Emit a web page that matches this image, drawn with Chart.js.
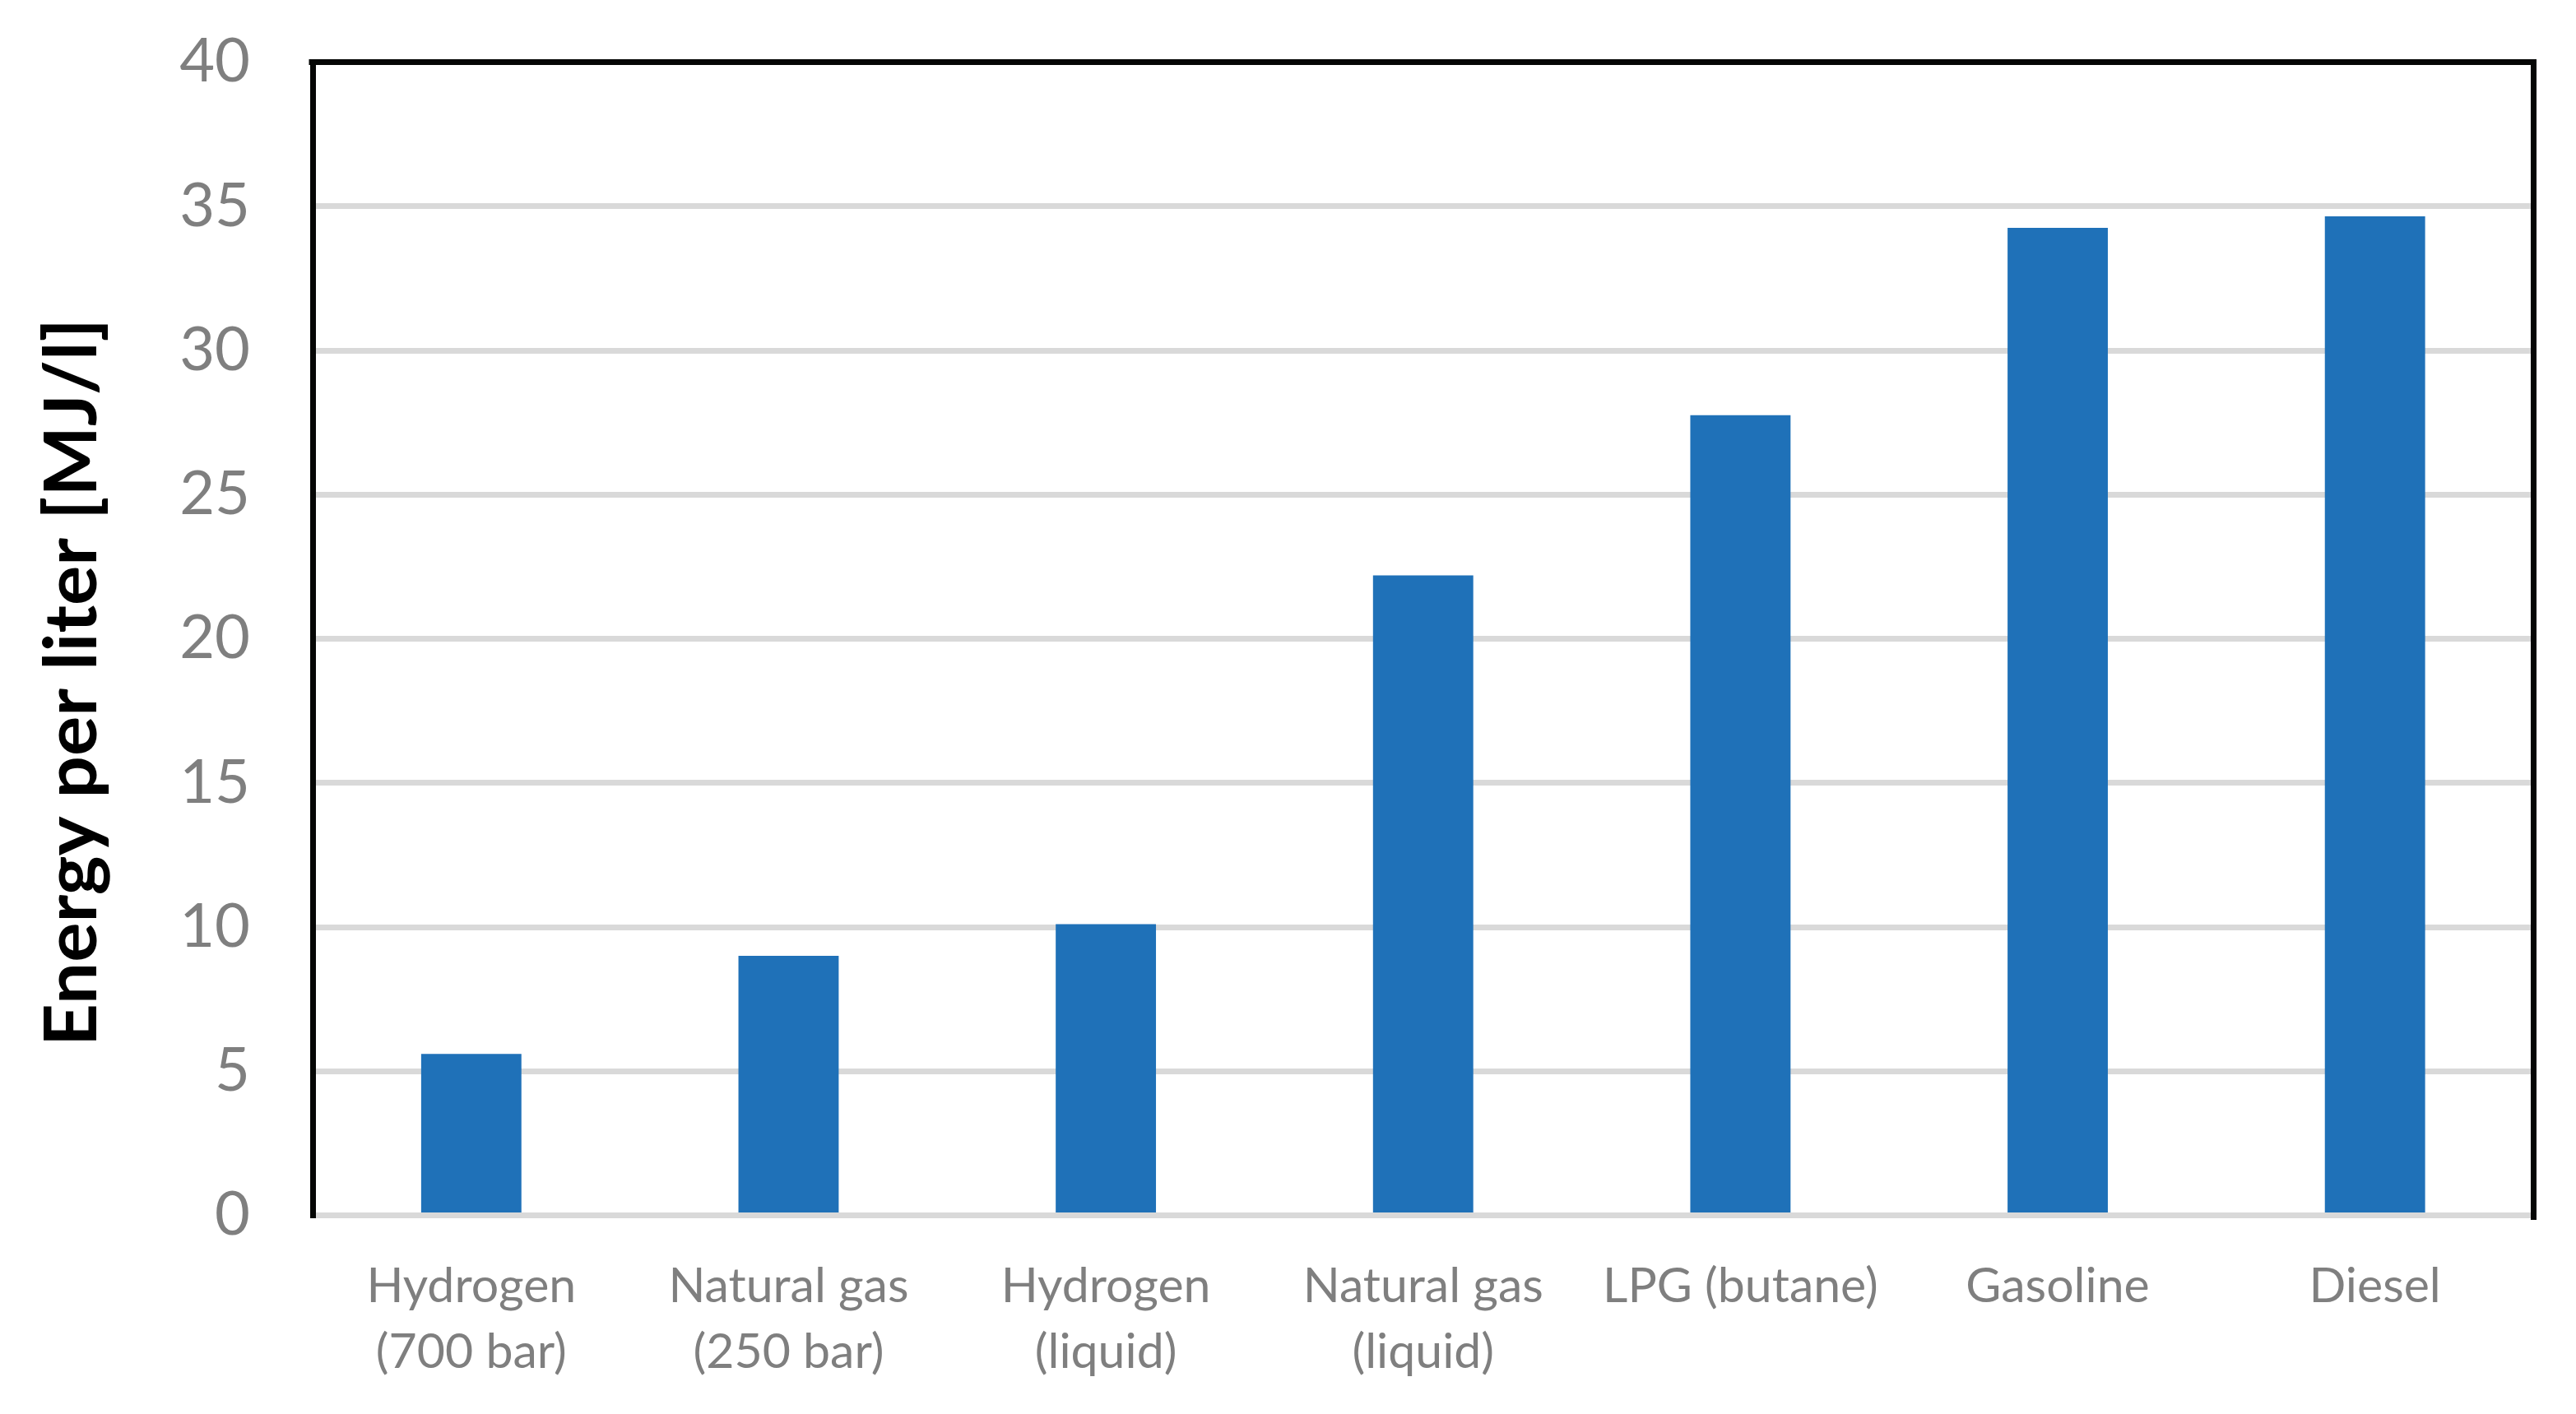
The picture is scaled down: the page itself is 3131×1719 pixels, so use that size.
<!DOCTYPE html>
<html>
<head>
<meta charset="utf-8">
<script src="https://cdn.jsdelivr.net/npm/chart.js@4/dist/chart.umd.min.js"></script>
<style>
html,body{margin:0;padding:0;background:#ffffff;}
#wrap{width:3131px;height:1719px;position:relative;}
canvas{display:block;}
</style>
</head>
<body>
<div id="wrap"><canvas id="c" width="3131" height="1719"></canvas></div>
<script>
// ---- data ----
const categories = [
  ["Hydrogen", "(700 bar)"],
  ["Natural gas", "(250 bar)"],
  ["Hydrogen", "(liquid)"],
  ["Natural gas", "(liquid)"],
  "LPG (butane)",
  "Gasoline",
  "Diesel"
];
const energyPerLiter = [5.6, 9.0, 10.1, 22.2, 27.75, 34.25, 34.65];
const yMin = 0;
const yMax = 40;
const yStep = 5;
const yAxisTitle = "Energy per liter [MJ/l]";

// ---- plugins ----
const framePlugin = {
  id: 'frame',
  afterDatasetsDraw(chart) {
    const {ctx, chartArea: a} = chart;
    ctx.save();
    ctx.strokeStyle = '#050605';
    ctx.lineWidth = 7;
    ctx.lineCap = 'square';
    ctx.beginPath();
    ctx.moveTo(a.left - 1, a.top);
    ctx.lineTo(a.right, a.top);
    ctx.lineTo(a.right, a.bottom + 2);
    ctx.stroke();
    ctx.restore();
  }
};

const yTitlePlugin = {
  id: 'yTitle',
  afterDraw(chart) {
    const ctx = chart.ctx;
    ctx.save();
    ctx.font = 'bold 88px Lato';
    ctx.fillStyle = '#000000';
    ctx.textAlign = 'center';
    ctx.textBaseline = 'alphabetic';
    const w = ctx.measureText(yAxisTitle).width;
    const target = 885;
    ctx.translate(117, 829.5);
    ctx.rotate(-Math.PI / 2);
    ctx.scale(target / w, 1);
    ctx.fillText(yAxisTitle, 0, 0);
    ctx.restore();
  }
};

function draw() {
  new Chart(document.getElementById('c'), {
    type: 'bar',
    data: {
      labels: categories,
      datasets: [{
        data: energyPerLiter,
        backgroundColor: '#1F71B8',
        borderWidth: 0,
        barPercentage: 0.316,
        categoryPercentage: 1.0
      }]
    },
    options: {
      responsive: false,
      animation: false,
      devicePixelRatio: 1,
      layout: { padding: { top: 75.5, right: 51.5, left: 0, bottom: 0 } },
      plugins: { legend: { display: false }, tooltip: { enabled: false }, title: { display: false } },
      scales: {
        x: {
          grid: { display: false, drawTicks: false },
          border: { display: true, color: '#D9D9D9', width: 7 },
          ticks: {
            color: '#7F7F7F',
            font: { family: 'Lato', size: 59, lineHeight: 1.36 },
            padding: 46,
            maxRotation: 0,
            autoSkip: false
          },
          afterFit(s) { s.height = 241.5; }
        },
        y: {
          min: yMin,
          max: yMax,
          ticks: {
            stepSize: yStep,
            color: '#7F7F7F',
            font: { family: 'Lato', size: 74 },
            padding: 76
          },
          grid: { color: '#D9D9D9', lineWidth: 7, drawTicks: false },
          border: { display: true, color: '#050605', width: 7 },
          afterFit(s) { s.width = 380; s.paddingTop = 0; s.paddingBottom = 0; }
        }
      }
    },
    plugins: [framePlugin, yTitlePlugin]
  });
}

Promise.all([
  document.fonts.load('59px Lato'),
  document.fonts.load('74px Lato'),
  document.fonts.load('bold 88px Lato')
]).then(draw, draw);
</script>
</body>
</html>
